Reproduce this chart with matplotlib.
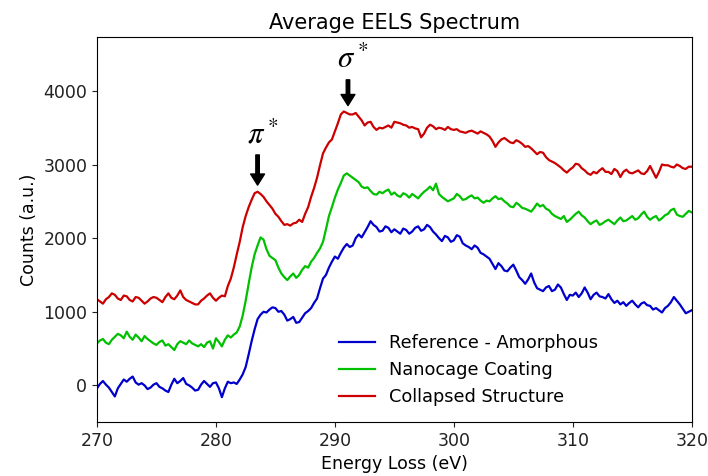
import numpy as np
import matplotlib
matplotlib.use("Agg")
import matplotlib.pyplot as plt

# energy axis, 0.25 eV steps from 270 to 320 eV
energy = np.arange(270.0, 320.001, 0.25)

reference_amorphous = [
    -40, 20, 60, 10, -30, -90, -150, -40, 20, 80, 50, 90, 120, 40, 10, 30, 0, -50, -30, 10,
    30, -20, -40, -70, -90, 10, 90, 30, 60, 100, 20, 0, -30, -70, -60, 10, 60, 20, -20, 30,
    40, -40, -160, -40, 50, 30, 40, 20, 80, 150, 250, 420, 600, 760, 900, 960, 1000, 990, 1030, 1060,
    1050, 1000, 1010, 960, 880, 900, 930, 850, 860, 920, 980, 1010, 1050, 1120, 1180, 1320, 1450, 1500, 1600, 1680,
    1750, 1720, 1800, 1870, 1920, 1880, 1900, 2000, 2050, 2010, 2080, 2150, 2230, 2180, 2150, 2090, 2100, 2160, 2140, 2080,
    2120, 2090, 2060, 2130, 2110, 2060, 2090, 2140, 2160, 2100, 2120, 2180, 2150, 2090, 2050, 2000, 1960, 2030, 2010, 1950,
    1970, 2040, 2020, 1930, 1900, 1880, 1850, 1900, 1870, 1800, 1780, 1750, 1720, 1650, 1580, 1660, 1620, 1560, 1550, 1600,
    1640, 1560, 1470, 1430, 1380, 1440, 1520, 1400, 1320, 1300, 1280, 1330, 1350, 1280, 1300, 1370, 1330, 1240, 1160, 1230,
    1220, 1260, 1200, 1250, 1330, 1260, 1170, 1230, 1260, 1210, 1200, 1180, 1240, 1170, 1120, 1150, 1100, 1130, 1080, 1120,
    1150, 1100, 1060, 1110, 1130, 1090, 1080, 1030, 1050, 1020, 990, 1050, 1080, 1130, 1200, 1150, 1100, 1040, 980, 1000,
    1020,
]

nanocage_coating = [
    570, 610, 630, 580, 560, 620, 660, 700, 680, 640, 730, 660, 620, 690, 650, 600, 670, 630, 600, 570,
    550, 590, 610, 540, 560, 520, 480, 560, 600, 580, 560, 610, 570, 550, 530, 560, 520, 580, 600, 500,
    640, 590, 530, 620, 680, 650, 690, 720, 800, 950, 1150, 1380, 1600, 1780, 1900, 2010, 1980, 1850, 1760, 1730,
    1700, 1600, 1520, 1470, 1430, 1480, 1520, 1460, 1500, 1570, 1620, 1600, 1680, 1730, 1800, 1860, 1950, 2120, 2300, 2420,
    2550, 2660, 2750, 2850, 2880, 2850, 2820, 2790, 2760, 2700, 2680, 2690, 2640, 2600, 2590, 2630, 2610, 2640, 2660, 2590,
    2620, 2580, 2560, 2610, 2590, 2550, 2600, 2570, 2540, 2590, 2630, 2660, 2700, 2650, 2740, 2600, 2560, 2530, 2500, 2520,
    2540, 2600, 2570, 2520, 2530, 2560, 2580, 2540, 2550, 2510, 2480, 2510, 2500, 2540, 2570, 2530, 2540, 2500, 2470, 2430,
    2420, 2480, 2450, 2410, 2400, 2380, 2360, 2410, 2470, 2430, 2450, 2400, 2380, 2330, 2300, 2280, 2260, 2300, 2220, 2250,
    2290, 2330, 2360, 2310, 2280, 2230, 2190, 2220, 2240, 2180, 2200, 2230, 2250, 2220, 2190, 2240, 2280, 2230, 2240, 2270,
    2300, 2250, 2270, 2320, 2360, 2290, 2250, 2280, 2300, 2240, 2270, 2310, 2330, 2380, 2400, 2320, 2300, 2290, 2330, 2370,
    2350,
]

collapsed_structure = [
    1170, 1140, 1110, 1170, 1200, 1250, 1230, 1180, 1160, 1220, 1210, 1160, 1140, 1200, 1190, 1150, 1110, 1140, 1180, 1200,
    1190, 1160, 1130, 1200, 1250, 1190, 1170, 1220, 1290, 1200, 1160, 1140, 1120, 1100, 1100, 1150, 1180, 1220, 1250, 1190,
    1150, 1190, 1220, 1210, 1350, 1450, 1600, 1780, 1950, 2150, 2300, 2420, 2520, 2610, 2630, 2600, 2560, 2500, 2450, 2400,
    2330, 2290, 2230, 2180, 2190, 2170, 2200, 2210, 2250, 2220, 2330, 2420, 2560, 2680, 2820, 2990, 3150, 3230, 3300, 3340,
    3450, 3560, 3680, 3720, 3700, 3680, 3680, 3700, 3650, 3600, 3530, 3570, 3580, 3510, 3470, 3500, 3490, 3510, 3530, 3500,
    3580, 3570, 3560, 3540, 3530, 3500, 3510, 3490, 3480, 3370, 3420, 3500, 3540, 3520, 3480, 3500, 3490, 3470, 3510, 3480,
    3470, 3480, 3450, 3440, 3430, 3450, 3460, 3440, 3420, 3450, 3430, 3410, 3380, 3320, 3240, 3300, 3340, 3360, 3330, 3300,
    3290, 3330, 3310, 3280, 3240, 3250, 3220, 3180, 3140, 3170, 3160, 3100, 3060, 3040, 3020, 2990, 2960, 2920, 2890, 2930,
    2960, 3010, 3000, 2950, 2920, 2880, 2860, 2900, 2880, 2920, 2950, 2900, 2900, 2870, 2940, 2910, 2830, 2900, 2930, 2890,
    2880, 2900, 2920, 2880, 2870, 2910, 2980, 2900, 2820, 2900, 3000, 2990, 2990, 2970, 2960, 3000, 2980, 2950, 2940, 2970,
    2970,
]

labels = ["Reference - Amorphous", "Nanocage Coating", "Collapsed Structure"]
colors = ["#0000cc", "#00c000", "#cc0000"]

# peak annotations: (label, energy, arrow tip, arrow tail)
peaks = [(r"$\pi^*$", 283.5, 2720, 3130),
         (r"$\sigma^*$", 291.1, 3800, 4150)]

plt.rcParams["mathtext.fontset"] = "stix"

fig, ax = plt.subplots(figsize=(7.08, 4.76), dpi=100)
for y, lab, c in zip([reference_amorphous, nanocage_coating, collapsed_structure],
                     labels, colors):
    ax.plot(energy, y, color=c, linewidth=1.6, label=lab)

for txt, e, tip, tail in peaks:
    ax.annotate("", xy=(e, tip), xytext=(e, tail),
                arrowprops=dict(facecolor="black", edgecolor="black",
                                width=2.5, headwidth=10, headlength=8))
    ax.text(e + 0.4, tail + 80, txt, fontsize=22, ha="center", va="bottom")

ax.set_xlim(270, 320)
ax.set_ylim(-500, 4730)
ax.set_xticks([270, 280, 290, 300, 310, 320])
ax.set_yticks([0, 1000, 2000, 3000, 4000])
ax.tick_params(labelsize=12.5, colors="#222222")
ax.set_xlabel("Energy Loss (eV)", fontsize=12.5)
ax.set_ylabel("Counts (a.u.)", fontsize=12.5)
ax.set_title("Average EELS Spectrum", fontsize=15)
ax.legend(loc="lower left", bbox_to_anchor=(0.38, 0.0), frameon=False, fontsize=12.8)

fig.subplots_adjust(left=0.137, right=0.977, top=0.922, bottom=0.113)
fig.savefig("out.png", dpi=100)
